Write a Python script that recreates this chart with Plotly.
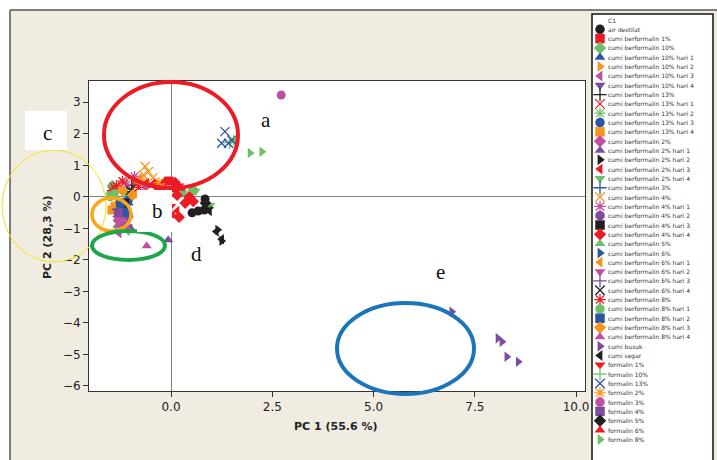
import plotly.graph_objects as go

W, H = 717, 460

# ---------------- data ----------------
series_names = [
    "air destilat", "cumi berformalin 1%", "cumi berformalin 10%",
    "cumi berformalin 10% hari 1", "cumi berformalin 10% hari 2",
    "cumi berformalin 10% hari 3", "cumi berformalin 10% hari 4",
    "cumi berformalin 13%", "cumi berformalin 13% hari 1",
    "cumi berformalin 13% hari 2", "cumi berformalin 13% hari 3",
    "cumi berformalin 13% hari 4", "cumi berformalin 2%",
    "cumi berformalin 2% hari 1", "cumi berformalin 2% hari 2",
    "cumi berformalin 2% hari 3", "cumi berformalin 2% hari 4",
    "cumi berformalin 3%", "cumi berformalin 4%",
    "cumi berformalin 4% hari 1", "cumi berformalin 4% hari 2",
    "cumi berformalin 4% hari 3", "cumi berformalin 4% hari 4",
    "cumi berformalin 5%", "cumi berformalin 6%",
    "cumi berformalin 6% hari 1", "cumi berformalin 6% hari 2",
    "cumi berformalin 6% hari 3", "cumi berformalin 6% hari 4",
    "cumi berformalin 8%", "cumi berformalin 8% hari 1",
    "cumi berformalin 8% hari 2", "cumi berformalin 8% hari 3",
    "cumi berformalin 8% hari 4", "cumi busuk", "cumi segar",
    "formalin 1%", "formalin 10%", "formalin 13%", "formalin 2%",
    "formalin 3%", "formalin 4%", "formalin 5%", "formalin 6%", "formalin 8%",
]

series_x = [
    [0.52, 0.67, 0.82, 0.84],
    [-0.05, 0.12, -0.3],
    [0.55, -1.45, -1.3],
    [-1.25, -1.15, -1.05],
    [-0.9, -0.6],
    [-1.34, -1.28],
    [-1.2, -1.05],
    [-0.97, -0.94, -1.1],
    [-1.4, -1.15, -0.85, -0.5],
    [1.55, -1.3, -1.1],
    [-1.2, -1.05],
    [-1.46, -1.38, -0.9],
    [-1.3, -1.15],
    [-0.07, -1.0],
    [0.95, 1.15, 1.25],
    [-0.2, 0.3, 0.15, -0.6],
    [0.3, 0.6, 0.97, -1.05],
    [-1.3, -1.1],
    [-0.64, -0.56, -0.69, -0.27, -0.45],
    [-0.9, -1.1, -0.8, -0.65],
    [-1.05],
    [-1.15],
    [0.15, -0.05, 0.35, 0.45, 0.1, 0.55, 0.2, -0.4],
    [-1.5, -1.35],
    [-1.2],
    [-1.3],
    [-1.25],
    [-1.1],
    [-1.0],
    [-1.35, -1.2, -0.8, -1.45],
    [-1.5, -1.4],
    [-1.25, -1.15],
    [-1.2, -0.95],
    [-0.6, -1.3, -1.1],
    [6.93, 8.07, 8.17, 8.29, 8.57],
    [0.95, 1.12, 1.25],
    [0.0, -0.1, 0.2, -0.35],
    [1.45],
    [1.33, 1.25, 1.42, 1.5],
    [-0.3, -0.75],
    [2.72],
    [-1.3],
    [0.85],
    [0.05, -0.15],
    [1.95, 2.24],
]

series_y = [
    [-0.51, -0.45, -0.42, -0.07],
    [0.5, 0.28, 0.3],
    [0.22, 0.35, -0.95],
    [-0.35, -0.55, -0.2],
    [0.45, 0.3],
    [-0.63, -1.16],
    [-0.85, -0.7],
    [0.37, 0.16, 0.25],
    [0.3, 0.45, 0.55, 0.4],
    [1.78, -0.45, 0.05],
    [-0.3, -0.1],
    [-0.42, -0.3, 0.1],
    [-0.75, -0.6],
    [-1.37, -1.0],
    [-0.35, -1.05, -1.4],
    [0.25, 0.2, -0.45, 0.45],
    [0.12, 0.17, -0.26, -1.1],
    [-0.4, -0.25],
    [0.96, 0.8, 0.69, 0.43, 0.6],
    [0.65, 0.4, 0.5, 0.3],
    [-0.6],
    [-0.2],
    [0.05, -0.55, -0.2, 0.0, 0.45, -0.15, -0.65, 0.4],
    [0.15, 0.2],
    [-0.45],
    [-0.15],
    [-0.85],
    [-0.9],
    [0.2],
    [0.35, 0.5, 0.3, 0.2],
    [0.0, 0.1],
    [-0.2, -0.5],
    [0.2, 0.05],
    [-1.56, -0.9, -0.95],
    [-3.65, -4.49, -4.6, -5.08, -5.24],
    [-0.45, -1.1, -1.35],
    [-0.3, -0.55, 0.35, 0.35],
    [1.72],
    [2.07, 1.7, 1.7, 1.8],
    [0.45, 0.55],
    [3.23],
    [-0.5],
    [-0.2],
    [-0.6, 0.5],
    [1.39, 1.43],
]

legend_title = "C1"
x_tick_vals = [0, 2.5, 5, 7.5, 10]
x_tick_text = ["0.0", "2.5", "5.0", "7.5", "10.0"]
y_tick_vals = [-6, -5, -4, -3, -2, -1, 0, 1, 2, 3]
x_title = "PC 1 (55.6 %)"
y_title = "PC 2 (28,3 %)"
region_labels = ["a", "b", "c", "d", "e"]

# ---------------- styles ----------------
BLK, RED, GRN, BLU = "#231f20", "#ed1c24", "#6cc067", "#2b55a5"
ORG, MAG, PUR = "#f7941d", "#c04fa1", "#7e4b9d"
color_cycle = [BLK, RED, GRN, BLU, ORG, MAG, PUR]
symbol_cycle = ["circle", "square", "diamond", "triangle-up", "triangle-right",
                "triangle-left", "triangle-down", "cross-thin", "x-thin", "asterisk"]
thin = {"cross-thin", "x-thin", "asterisk"}


def px(x):
    return x / W


def py(y):
    return 1 - y / H


fig = go.Figure()

for i, name in enumerate(series_names):
    sym = symbol_cycle[i % 10]
    col = color_cycle[i % 7]
    fig.add_trace(go.Scatter(
        x=series_x[i], y=series_y[i], mode="markers", name=name,
        showlegend=False, xaxis="x", yaxis="y", cliponaxis=True,
        marker=dict(symbol=sym, size=9, color=col,
                    line=dict(color=col, width=1.3 if sym in thin else 0)),
    ))

# manual legend
n = len(series_names)
leg_sym = [symbol_cycle[i % 10] for i in range(n)]
leg_col = [color_cycle[i % 7] for i in range(n)]
leg_lw = [1.3 if s in thin else 0 for s in leg_sym]
fig.add_trace(go.Scatter(
    x=[8] * n, y=list(range(1, n + 1)), mode="markers", showlegend=False,
    xaxis="x2", yaxis="y2", hoverinfo="skip",
    marker=dict(symbol=leg_sym, size=9.5, color=leg_col,
                line=dict(color=leg_col, width=leg_lw)),
))

leg_font = dict(family="DejaVu Sans", size=6, color="#333")
annotations = []
annotations.append(dict(x=13.5, y=0, xref="x2", yref="y2", text=legend_title,
                        showarrow=False, xanchor="left", yanchor="middle", font=leg_font))
for i, name in enumerate(series_names):
    annotations.append(dict(x=13.5, y=i + 1, xref="x2", yref="y2", text=name,
                            showarrow=False, xanchor="left", yanchor="middle", font=leg_font))

# axis titles
annotations.append(dict(x=px(336), y=py(426), xref="paper", yref="paper", text="<b>" + x_title + "</b>",
                        showarrow=False, xanchor="center", yanchor="middle",
                        font=dict(family="DejaVu Sans", size=11, color="#222")))
annotations.append(dict(x=px(47), y=py(237), xref="paper", yref="paper", text="<b>" + y_title + "</b>",
                        showarrow=False, xanchor="center", yanchor="middle", textangle=-90,
                        font=dict(family="DejaVu Sans", size=11, color="#222")))

# region labels
label_pos = [(266, 120), (157, 211), (47, 133), (196, 254), (440, 272)]
for t, (lx, ly) in zip(region_labels, label_pos):
    annotations.append(dict(x=px(lx), y=py(ly), xref="paper", yref="paper", text=t,
                            showarrow=False, xanchor="center", yanchor="middle",
                            font=dict(family="Liberation Serif", size=21, color="#111")))

shapes = [
    # white outer strips
    dict(type="rect", xref="paper", yref="paper", x0=0, x1=1, y0=py(10), y1=1.01,
         fillcolor="white", line=dict(width=0), layer="below"),
    dict(type="rect", xref="paper", yref="paper", x0=-0.01, x1=px(10), y0=-0.01, y1=1.01,
         fillcolor="white", line=dict(width=0), layer="below"),
    dict(type="line", xref="paper", yref="paper", x0=px(10), x1=1.01, y0=py(10), y1=py(10),
         line=dict(color="#555", width=1.5), layer="below"),
    dict(type="line", xref="paper", yref="paper", x0=px(10), x1=px(10), y0=-0.01, y1=py(10),
         line=dict(color="#555", width=1.5), layer="below"),
    # legend box
    dict(type="rect", xref="paper", yref="paper", x0=px(592), x1=px(713), y0=-0.02, y1=py(14),
         fillcolor="white", line=dict(color="#111", width=1.5), layer="below"),
    # region ellipses
    dict(type="circle", xref="paper", yref="paper", x0=px(104), x1=px(238), y0=py(188), y1=py(82),
         line=dict(color="#ed1c24", width=4), layer="above"),
    dict(type="circle", xref="paper", yref="paper", x0=px(2), x1=px(106), y0=py(262), y1=py(150),
         line=dict(color="#f0e51a", width=1), layer="above"),
    dict(type="circle", xref="paper", yref="paper", x0=px(92), x1=px(131), y0=py(231), y1=py(198),
         line=dict(color="#f9a61a", width=3.5), layer="above"),
    dict(type="circle", xref="paper", yref="paper", x0=px(92), x1=px(165), y0=py(260), y1=py(231),
         line=dict(color="#1fa64a", width=4), layer="above"),
    dict(type="circle", xref="paper", yref="paper", x0=px(337), x1=px(474), y0=py(394), y1=py(303),
         line=dict(color="#1b75bb", width=4), layer="above"),
    # white label boxes
    dict(type="rect", xref="paper", yref="paper", x0=px(137), x1=px(172), y0=py(232), y1=py(190),
         fillcolor="white", line=dict(width=0), layer="above"),
    dict(type="rect", xref="paper", yref="paper", x0=px(25), x1=px(67), y0=py(150), y1=py(111),
         fillcolor="white", line=dict(width=0), layer="above"),
]

tick_font = dict(family="DejaVu Sans", size=12, color="#222")
fig.update_layout(
    width=W, height=H, margin=dict(l=0, r=0, t=0, b=0, autoexpand=False),
    paper_bgcolor="#f1ece2", plot_bgcolor="white",
    showlegend=False,
    xaxis=dict(domain=[px(89), px(585)], range=[-2.025, 10.22], tickvals=x_tick_vals,
               ticktext=x_tick_text, ticks="outside", ticklen=5, tickcolor="#333",
               showline=True, linecolor="#333", linewidth=1, mirror=True,
               showgrid=False, zeroline=True, zerolinecolor="#808080", zerolinewidth=1,
               tickfont=tick_font, anchor="y"),
    yaxis=dict(domain=[py(391), py(81)], range=[-6.165, 3.676], tickvals=y_tick_vals,
               ticks="outside", ticklen=5, tickcolor="#333",
               showline=True, linecolor="#333", linewidth=1, mirror=True,
               showgrid=False, zeroline=True, zerolinecolor="#808080", zerolinewidth=1,
               tickfont=tick_font, anchor="x"),
    xaxis2=dict(domain=[px(592), px(713)], range=[0, 121], visible=False, anchor="y2"),
    yaxis2=dict(domain=[0, py(14)], range=[440 / 9.32, -6 / 9.32], visible=False, anchor="x2"),
    shapes=shapes, annotations=annotations,
)

fig.write_html(
    "out.html",
    config={"displayModeBar": False},
    post_script="document.body.style.margin='0';document.body.style.overflow='hidden';",
)
